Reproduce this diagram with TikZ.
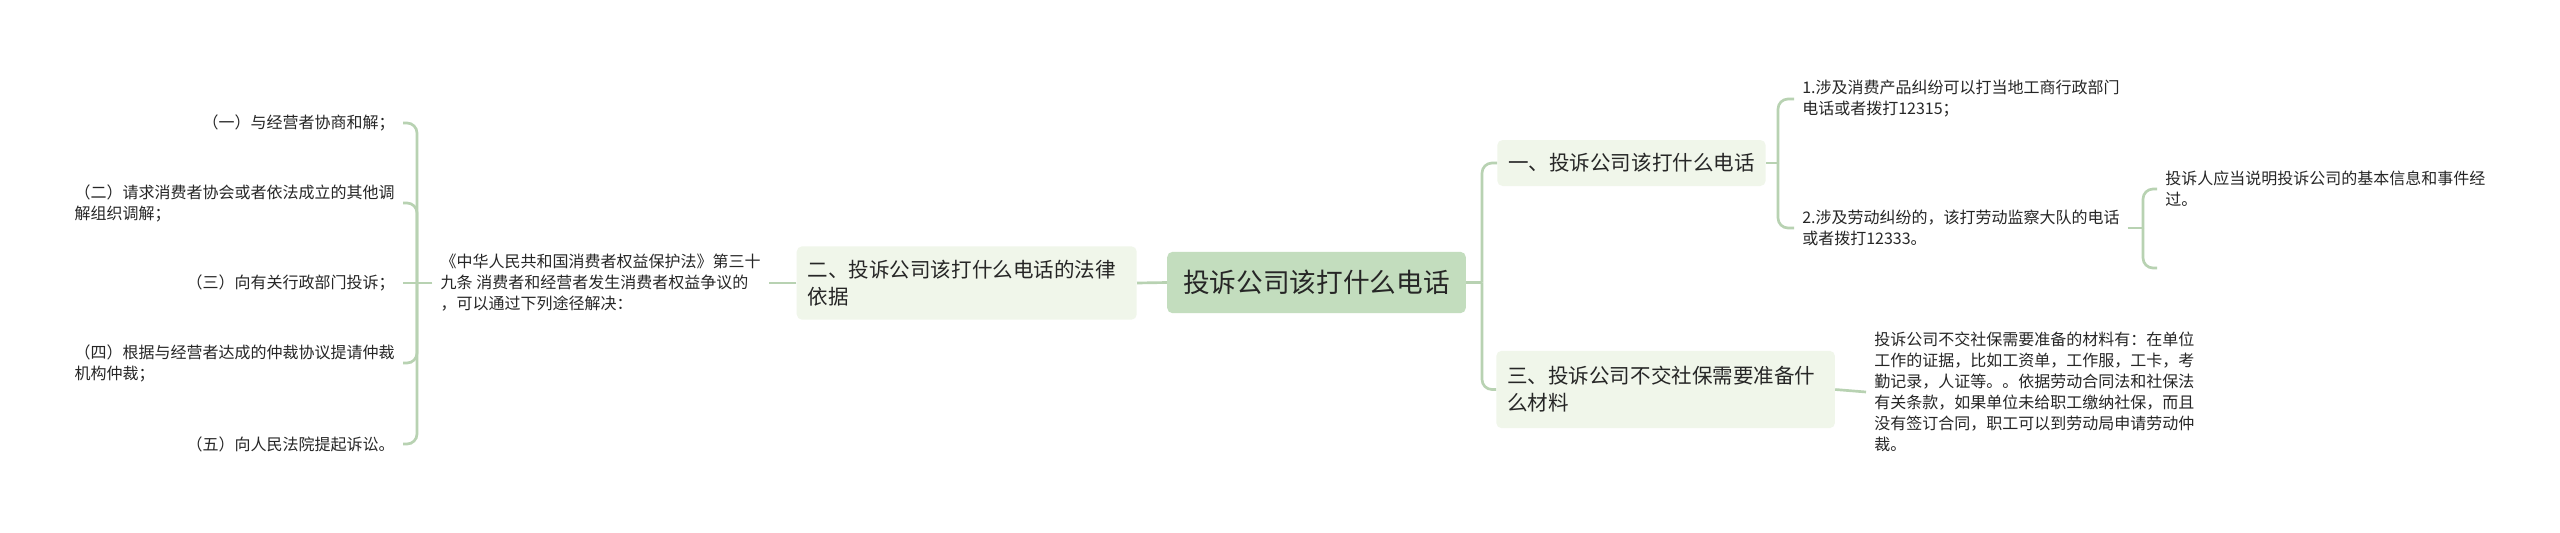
\documentclass[tikz,border=0pt]{standalone}
\usepackage{fontspec}
\setmainfont{Noto Sans CJK SC}
\definecolor{rootc}{HTML}{C3DDBE}
\definecolor{brc}{HTML}{F0F6EA}
\definecolor{linec}{HTML}{B8D2B2}
\definecolor{txt}{HTML}{262626}
\begin{document}
\begin{tikzpicture}[x=0.75pt,y=-0.75pt,
  conn/.style={draw=linec,line width=2pt},
  rc/.style={rounded corners=7.5pt},
  rootbox/.style={fill=rootc,rounded corners=4pt,minimum width=224pt,minimum height=46pt,inner sep=0pt,text=txt,font=\fontsize{20}{24}\selectfont},
  brbox/.style={fill=brc,rounded corners=4pt,inner xsep=8.25pt,inner ysep=0pt,text=txt,font=\fontsize{15.4}{20.3}\selectfont},
  leaf/.style={inner xsep=6pt,inner ysep=0pt,text=txt,align=left,font=\fontsize{12}{15.75}\selectfont}
]
\useasboundingbox (0,0) rectangle (2560,532);
\fill[white] (0,0) rectangle (2560,532);

% central
\node[rootbox] (root) at (1316.5,282.5) {投诉公司该打什么电话};

% right branches
\node[brbox,anchor=west,minimum width=199pt,minimum height=34.5pt,align=center] (b1) at (1497,163) {一、投诉公司该打什么电话};
\node[brbox,anchor=west,text width=237.5pt,minimum height=58pt,align=left] (b3) at (1496,389.5) {三、投诉公司不交社保需要准备什\\么材料};

% left branch
\node[brbox,anchor=east,text width=238.5pt,minimum height=55pt,align=left] (b2) at (1137,283) {二、投诉公司该打什么电话的法律\\依据};

% right leaves
\node[leaf,anchor=west] (l11) at (1794,99) {1.涉及消费产品纠纷可以打当地工商行政部门\\电话或者拨打12315；};
\node[leaf,anchor=west] (l12) at (1794,228) {2.涉及劳动纠纷的，该打劳动监察大队的电话\\或者拨打12333。};
\node[leaf,anchor=west] (l121) at (2157,189) {投诉人应当说明投诉公司的基本信息和事件经\\过。};
\node[leaf,anchor=west] (l31) at (1866,392) {投诉公司不交社保需要准备的材料有：在单位\\工作的证据，比如工资单，工作服，工卡，考\\勤记录，人证等。。依据劳动合同法和社保法\\有关条款，如果单位未给职工缴纳社保，而且\\没有签订合同，职工可以到劳动局申请劳动仲\\裁。};

% left leaves
\node[leaf,anchor=east] (law) at (769,283) {《中华人民共和国消费者权益保护法》第三十\\九条 消费者和经营者发生消费者权益争议的\\，可以通过下列途径解决：};
\node[leaf,anchor=east] (a1) at (403,123) {（一）与经营者协商和解；};
\node[leaf,anchor=east] (a2) at (403,203) {（二）请求消费者协会或者依法成立的其他调\\解组织调解；};
\node[leaf,anchor=east] (a3) at (403,283) {（三）向有关行政部门投诉；};
\node[leaf,anchor=east] (a4) at (403,363) {（四）根据与经营者达成的仲裁协议提请仲裁\\机构仲裁；};
\node[leaf,anchor=east] (a5) at (403,444) {（五）向人民法院提起诉讼。};

% junctions
\coordinate (jr) at (1482,282.5);
\coordinate (j1) at (1778,163);
\coordinate (j12) at (2143,228);
\coordinate (e121) at (2157,268);
\coordinate (jL) at (417,283);

% connectors right
\draw[conn] (root.east) -- (jr);
\draw[conn,rc] (jr) |- (b1.west);
\draw[conn,rc] (jr) |- (b3.west);
\draw[conn] (b1.east) -- (j1);
\draw[conn,rc] (j1) |- (l11.west);
\draw[conn,rc] (j1) |- (l12.west);
\draw[conn] (l12.east) -- (j12);
\draw[conn,rc] (j12) |- (l121.west);
\draw[conn,rc] (j12) |- (e121);
\draw[conn] (b3.east) -- (l31.west);

% connectors left
\draw[conn] (root.west) -- (b2.east);
\draw[conn] (b2.west) -- (law.east);
\draw[conn] (law.west) -- (jL);
\draw[conn,rc] (jL) |- (a1.east);
\draw[conn,rc] (jL) |- (a2.east);
\draw[conn] (jL) -- (a3.east);
\draw[conn,rc] (jL) |- (a4.east);
\draw[conn,rc] (jL) |- (a5.east);
\end{tikzpicture}
\end{document}
